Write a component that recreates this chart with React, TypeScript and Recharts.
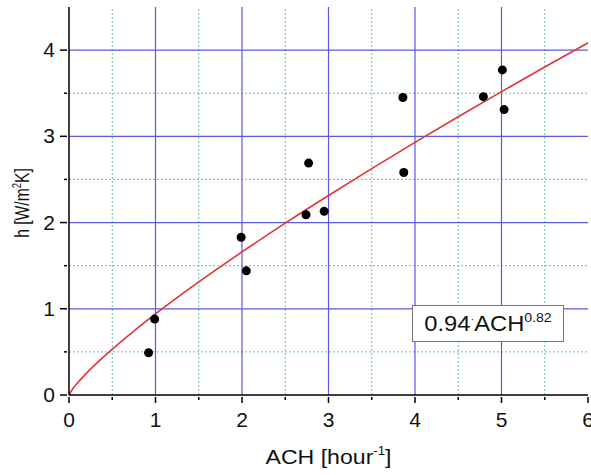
import { ComposedChart, XAxis, YAxis, Line, Scatter, ReferenceLine } from "recharts";

// fitted curve
const fitX = [0, 0.05, 0.1, 0.25, 0.5, 0.75, 1, 1.5, 2, 2.5, 3, 3.5, 4, 4.5, 5, 5.5, 6];
const fitY = [0, 0.081, 0.142, 0.302, 0.532, 0.742, 0.94, 1.311, 1.659, 1.993, 2.314, 2.626, 2.93, 3.227, 3.518, 3.804, 4.085];

// measured points
const achValues = [0.92, 0.99, 1.99, 2.05, 2.74, 2.95, 2.77, 3.86, 3.87, 4.79, 5.01, 5.03];
const hValues = [0.49, 0.88, 1.83, 1.44, 2.09, 2.13, 2.69, 3.45, 2.58, 3.46, 3.77, 3.31];

const xTicks = [0, 0.5, 1, 1.5, 2, 2.5, 3, 3.5, 4, 4.5, 5, 5.5, 6];
const yTicks = [0, 0.5, 1, 1.5, 2, 2.5, 3, 3.5, 4];
const majorX = [1, 2, 3, 4, 5];
const minorX = [0.5, 1.5, 2.5, 3.5, 4.5, 5.5];
const majorY = [1, 2, 3, 4];
const minorY = [0.5, 1.5, 2.5, 3.5];

const fitData = fitX.map((x, i) => ({ x, y: fitY[i] }));
const pointData = achValues.map((x, i) => ({ x, y: hValues[i] }));

const FONT = "'Liberation Sans', Arial, sans-serif";

function XTick(props: any) {
  const { x, y, payload } = props;
  const major = Number.isInteger(payload.value);
  return (
    <g>
      <line x1={x} x2={x} y1={y} y2={y + (major ? 6 : 3)} stroke="#000" strokeWidth={1.5} />
      {major && (
        <text x={x} y={y + 30} textAnchor="middle" fontSize={21} fontFamily={FONT} fill="#111">
          {payload.value}
        </text>
      )}
    </g>
  );
}

function YTick(props: any) {
  const { x, y, payload } = props;
  const major = Number.isInteger(payload.value);
  return (
    <g>
      <line x1={x - (major ? 7 : 3)} x2={x} y1={y} y2={y} stroke="#000" strokeWidth={1.5} />
      {major && (
        <text x={x - 12} y={y + 7} textAnchor="end" fontSize={21} fontFamily={FONT} fill="#111">
          {payload.value}
        </text>
      )}
    </g>
  );
}

function XLabel(props: any) {
  const { viewBox } = props;
  const cx = viewBox.x + viewBox.width / 2;
  const by = viewBox.y + 69;
  return (
    <text
      x={0}
      y={0}
      transform={`translate(${cx} ${by}) scale(1.1 1)`}
      textAnchor="middle"
      fontSize={21}
      fontFamily={FONT}
      fill="#111"
    >
      ACH [hour
      <tspan dy={-9} fontSize={12}>-1</tspan>
      <tspan dy={9}>]</tspan>
    </text>
  );
}

function YLabel(props: any) {
  const { viewBox } = props;
  const cy = viewBox.y + viewBox.height / 2 + 2;
  const cx = 29;
  return (
    <text
      x={0}
      y={0}
      transform={`translate(${cx} ${cy}) rotate(-90) scale(0.87 1.1)`}
      textAnchor="middle"
      fontSize={18}
      fontFamily={FONT}
      fill="#111"
    >
      h [W/m
      <tspan dy={-7} fontSize={11}>2</tspan>
      <tspan dy={7}>K]</tspan>
    </text>
  );
}

const Dot = (props: any) => <circle cx={props.cx} cy={props.cy} r={4.5} fill="#000" />;

export default function App() {
  return (
    <div style={{ position: "absolute", left: 0, top: 0, width: 591, height: 475, background: "#fff" }}>
      <ComposedChart width={591} height={475} margin={{ top: 7, right: 3, bottom: 0, left: 0 }}>
        <XAxis
          type="number"
          dataKey="x"
          domain={[0, 6]}
          ticks={xTicks}
          interval={0}
          height={80}
          tickSize={0}
          tickLine={false}
          tick={<XTick />}
          axisLine={{ stroke: "#000", strokeWidth: 1.5 }}
          label={<XLabel />}
        />
        <YAxis
          type="number"
          dataKey="y"
          domain={[0, 4.5]}
          ticks={yTicks}
          interval={0}
          width={69}
          tickSize={0}
          tickLine={false}
          tick={<YTick />}
          axisLine={{ stroke: "#000", strokeWidth: 1.5 }}
          label={<YLabel />}
        />
        {minorX.map((v) => (
          <ReferenceLine key={`mx${v}`} x={v} stroke="#6cc0b4" strokeWidth={1} strokeDasharray="2 2" />
        ))}
        {minorY.map((v) => (
          <ReferenceLine key={`my${v}`} y={v} stroke="#6cc0b4" strokeWidth={1} strokeDasharray="2 2" />
        ))}
        {majorX.map((v) => (
          <ReferenceLine key={`x${v}`} x={v} stroke="#5a5ae0" strokeWidth={1.2} />
        ))}
        {majorY.map((v) => (
          <ReferenceLine key={`y${v}`} y={v} stroke="#5a5ae0" strokeWidth={1.2} />
        ))}
        <Line
          data={fitData}
          dataKey="y"
          type="monotone"
          stroke="#e03535"
          strokeWidth={1.6}
          dot={false}
          isAnimationActive={false}
        />
        <Scatter data={pointData} dataKey="y" fill="#000" shape={<Dot />} isAnimationActive={false} />
      </ComposedChart>
      <div
        style={{
          position: "absolute",
          left: 412,
          top: 305,
          width: 152,
          height: 37,
          border: "1px solid #777",
          background: "#fff",
          fontFamily: FONT,
          fontSize: 22,
          color: "#111",
          display: "flex",
          alignItems: "center",
          justifyContent: "center",
          boxSizing: "border-box",
        }}
      >
        <span style={{ display: "inline-block", transform: "scaleX(1.08)", whiteSpace: "nowrap" }}>
          0.94<span style={{ fontSize: 10, verticalAlign: "8px" }}>·</span>ACH
          <span style={{ fontSize: 13, verticalAlign: "9px" }}>0.82</span>
        </span>
      </div>
    </div>
  );
}
